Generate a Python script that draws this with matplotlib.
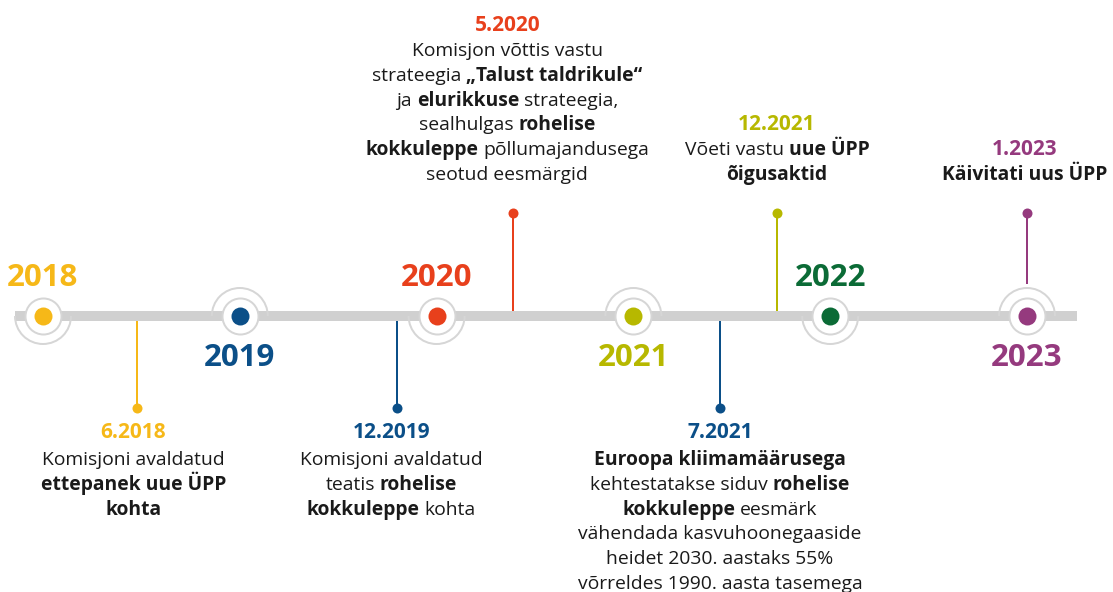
import re
import matplotlib
matplotlib.use("Agg")
import matplotlib.pyplot as plt
from matplotlib.patches import Arc

# ---------------- data ----------------
years = [2018, 2019, 2020, 2021, 2022, 2023]
year_colors = ["#F6B818", "#0B4F88", "#E8401C", "#B7B800", "#0B6B36", "#953A7E"]

event_dates = ["6.2018", "12.2019", "5.2020", "7.2021", "12.2021", "1.2023"]
event_pos = [2018.48, 2019.80, 2020.39, 2021.44, 2021.73, 2023.00]
event_colors = ["#F6B818", "#0B4F88", "#E8401C", "#0B4F88", "#B7B800", "#953A7E"]
event_above = [False, False, True, False, True, True]
event_texts = [
    ["Komisjoni avaldatud", "**ettepanek uue ÜPP**", "**kohta**"],
    ["Komisjoni avaldatud", "teatis **rohelise**", "**kokkuleppe** kohta"],
    ["Komisjon võttis vastu", "strateegia **„Talust taldrikule“**",
     "ja **elurikkuse** strateegia,", "sealhulgas **rohelise**",
     "**kokkuleppe** põllumajandusega", "seotud eesmärgid"],
    ["**Euroopa kliimamäärusega**", "kehtestatakse siduv **rohelise**",
     "**kokkuleppe** eesmärk", "vähendada kasvuhoonegaaside",
     "heidet 2030. aastaks 55%", "võrreldes 1990. aasta tasemega"],
    ["Võeti vastu **uue ÜPP**", "**õigusaktid**"],
    ["**Käivitati uus ÜPP**"],
]
text_shift_px = [-4, -6, -6, 0, 0, -2]

# ---------------- layout / style ----------------
W, H = 1113, 592
FONT = "Open Sans"
BAR_C = "#D0D0D0"
RING_C = "#D6D6D6"
TEXT_C = "#1A1A1A"
px0, ppy = 43.0, 196.8          # pixel of first year, pixels per year
axis_y = 316
R_DOT, R_RING, R_ARC = 9, 18, 28

fig = plt.figure(figsize=(W / 100, H / 100), dpi=100)
ax = fig.add_axes([0, 0, 1, 1])
ax.set_xlim(years[0] - px0 / ppy, years[0] + (W - px0) / ppy)
ax.set_ylim(H, 0)
ax.axis("off")

def px2x(p):
    return p / ppy

# main bar
ax.plot([years[0] - px2x(28), years[-1] + px2x(50)], [axis_y, axis_y],
        color=BAR_C, lw=10 * 0.72, solid_capstyle="butt", zorder=1)

# year nodes
for i, (yr, c) in enumerate(zip(years, year_colors)):
    above = (i % 2 == 0)
    if above:
        t1, t2 = 0, 180      # visually lower half (y inverted)
    else:
        t1, t2 = 180, 360    # visually upper half
    ax.add_patch(Arc((yr, axis_y), 2 * px2x(R_ARC), 2 * R_ARC, theta1=t1, theta2=t2,
                     color=RING_C, lw=2 * 0.72, zorder=3))
    ax.scatter([yr], [axis_y], s=(2 * R_RING * 0.72) ** 2, facecolor="white",
               edgecolor=RING_C, linewidth=2 * 0.72, zorder=4)
    ax.scatter([yr], [axis_y], s=(2 * R_DOT * 0.72) ** 2, color=c, zorder=5, linewidth=0)
    ly = 286 if above else 366
    ax.text(yr, ly, str(yr), color=c, fontsize=22.5, fontweight="bold", family=FONT,
            ha="center", va="baseline", zorder=6)

renderer = fig.canvas.get_renderer()

def text_width(s, bold, size):
    t = ax.text(0, 0, s, fontsize=size, family=FONT,
                fontweight="bold" if bold else "normal")
    w = t.get_window_extent(renderer).width
    t.remove()
    return w

def rich_line(xc, y, line, size, color):
    parts = re.split(r"(\*\*.*?\*\*)", line)
    segs = []
    for p in parts:
        if not p.strip():
            continue
        if p.startswith("**"):
            segs.append((p[2:-2].strip(), True))
        else:
            segs.append((p.strip(), False))
    sp = text_width("x x", False, size) - text_width("xx", False, size)
    widths = [text_width(s, b, size) for s, b in segs]
    total = sum(widths) + sp * (len(segs) - 1)
    cur = -total / 2
    for (s, b), w in zip(segs, widths):
        ax.text(xc + px2x(cur), y, s, fontsize=size, family=FONT, color=color,
                fontweight="bold" if b else "normal", ha="left", va="baseline", zorder=6)
        cur += w + sp

BODY = 13.9
DATE = 15.0
LS = 24.8
for pos, d, c, up, lines, sh in zip(event_pos, event_dates, event_colors,
                                      event_above, event_texts, text_shift_px):
    at_node = any(abs(pos - yr) < 1e-6 for yr in years)
    if up:
        dot_y = 213
        start = axis_y - (R_ARC + 4 if at_node else 5)
        first = 180 - (len(lines) - 1) * LS
        date_y = first - 25
    else:
        dot_y = 408
        start = axis_y + (R_ARC + 4 if at_node else 5)
        date_y = 438
        first = 465
    ax.plot([pos, pos], [start, dot_y], color=c, lw=2 * 0.72, zorder=2,
            solid_capstyle="butt")
    ax.scatter([pos], [dot_y], s=(10 * 0.72) ** 2, color=c, zorder=5, linewidth=0)
    xc = pos + px2x(sh)
    ax.text(xc, date_y, d, fontsize=DATE, fontweight="bold", family=FONT, color=c,
            ha="center", va="baseline", zorder=6)
    for k, ln in enumerate(lines):
        rich_line(xc, first + k * LS, ln, BODY, TEXT_C)

fig.savefig("out.png", dpi=100, facecolor="white")
